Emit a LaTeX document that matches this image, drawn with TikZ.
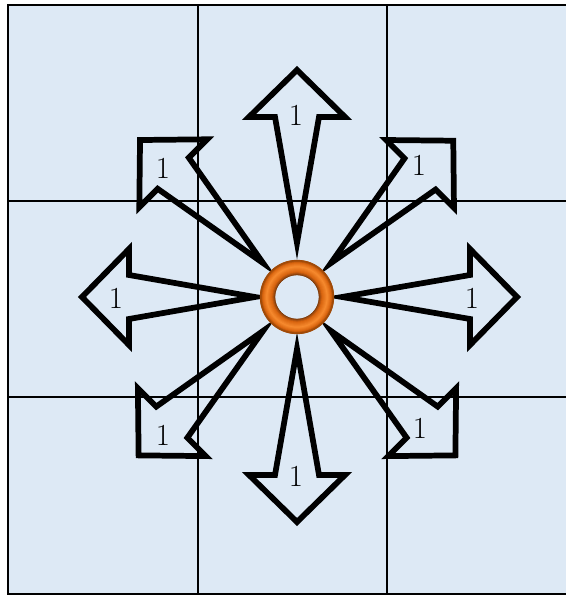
\documentclass[tikz,border=0pt]{standalone}
\definecolor{bg}{HTML}{DDE9F5}
\definecolor{ringedge}{HTML}{A04A08}
\definecolor{ringdark}{HTML}{7A3A0C}
\definecolor{ringmid}{HTML}{D8640F}
\definecolor{ringlight}{HTML}{F68A2E}
\tikzset{
  gridline/.style={line width=1.1pt, black},
  border/.style={line width=1.6pt, black},
  fatarrow/.style={line width=4.3pt, black, miter limit=10, line join=miter},
  lbl/.style={font=\fontsize{23}{24}\selectfont, inner sep=0pt}
}
\newcommand\bigarrow[3]{% angle, tip, inner
  \pgfmathsetmacro\baseD{#2-47}
  \begin{scope}[shift={(c)}, rotate=#1]
    \draw[fatarrow] (#3,0) -- (\baseD,-22) -- (\baseD,-48) -- (#2,0) -- (\baseD,48) -- (\baseD,22) -- cycle;
  \end{scope}}
\begin{document}
\begin{tikzpicture}[x=0.75pt,y=0.75pt]
\useasboundingbox (0,0) rectangle (566,595);
\fill[white] (0,0) rectangle (566,595);
\fill[bg] (8,1) rectangle (566,590);
\draw[gridline] (198,1) -- (198,590);
\draw[gridline] (387,1) -- (387,590);
\draw[gridline] (8,394) -- (566,394);
\draw[gridline] (8,198) -- (566,198);
\draw[border] (566,590) -- (8,590) -- (8,1) -- (566,1);
\coordinate (c) at (297,298);
\bigarrow{0}{220}{45}
\bigarrow{45}{221}{48}
\bigarrow{90}{227}{54}
\bigarrow{135}{222}{48}
\bigarrow{180}{215}{42}
\bigarrow{225}{224}{48}
\bigarrow{270}{225}{52}
\bigarrow{315}{224}{48}
\fill[ringedge, even odd rule] (c) circle (37) (c) circle (22);
\foreach \r/\c in {22.7/ringdark, 23.5/ringdark!60!ringmid, 24.5/ringdark!30!ringmid, 25.5/ringmid, 26.5/ringmid!80!ringlight, 27.5/ringmid!60!ringlight, 28.5/ringmid!40!ringlight, 29.5/ringmid!20!ringlight, 30.5/ringlight, 31.5/ringlight!80!ringmid, 32.5/ringlight!55!ringmid, 33.5/ringlight!30!ringmid, 34.5/ringmid, 35.5/ringmid!50!ringedge, 36.3/ringedge}
  \draw[\c, line width=1.7*0.75pt] (c) circle (\r);
\node[circle, minimum size=74*0.75pt, inner sep=0pt] (ring) at (c) {};
\node[lbl] (lu) at (296,480) {1};
\node[lbl] (lr) at (472,297) {1};
\node[lbl] (ll) at (116,297) {1};
\node[lbl] (ld) at (296,119) {1};
\node[lbl] (lur) at (419,430) {1};
\node[lbl] (lul) at (163,427) {1};
\node[lbl] (lll) at (163,160) {1};
\node[lbl] (llr) at (420,167) {1};
\end{tikzpicture}
\end{document}
